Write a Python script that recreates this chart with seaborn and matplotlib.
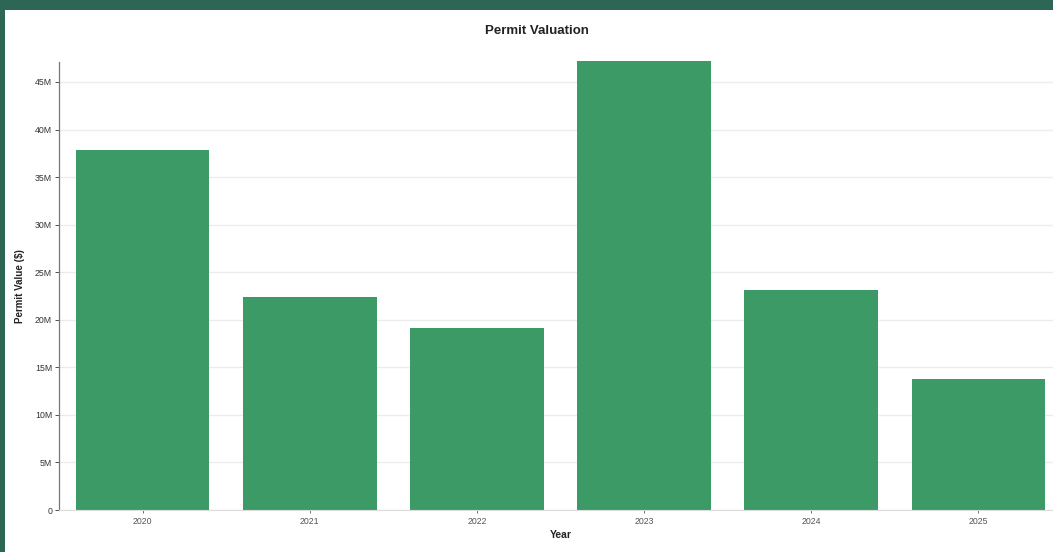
import matplotlib
matplotlib.use("Agg")
import matplotlib.pyplot as plt
import matplotlib.ticker as mticker
from matplotlib.patches import Rectangle
import seaborn as sns
import pandas as pd

# Annual permit valuation, in dollars
years = ["2020", "2021", "2022", "2023", "2024", "2025"]
permit_values = [37.85e6, 22.4e6, 19.15e6, 47.2e6, 23.1e6, 13.8e6]
y_ticks = [0, 5e6, 10e6, 15e6, 20e6, 25e6, 30e6, 35e6, 40e6, 45e6]

df = pd.DataFrame({"Year": years, "Permit Value ($)": permit_values})

sns.set_theme(style="white")
plt.rcParams["font.family"] = ["Liberation Sans", "DejaVu Sans"]

W, H = 1053, 552
fig = plt.figure(figsize=(W / 100, H / 100), dpi=100)
fig.patch.set_facecolor("#2d6655")
# white card sitting inside the dark frame
card = Rectangle((5 / W, 0), 1, 1 - 10 / H, transform=fig.transFigure,
                 facecolor="white", edgecolor="none", zorder=-10)
fig.patches.append(card)

x0, x1 = 59, 1062
y_top_px = 62
ax = fig.add_axes([x0 / W, 42 / H, (x1 - x0) / W, (510 - y_top_px) / H])
ax.set_zorder(5)
ax.set_facecolor("none")

sns.barplot(data=df, x="Year", y="Permit Value ($)", color="#3b9a66",
            saturation=1, width=0.8, ax=ax, zorder=2, clip_on=False)
for p in ax.patches:
    p.set_edgecolor("none")

ax.set_ylim(0, 47.1e6)
ax.set_xlim(-0.5, len(years) - 0.5)
ax.set_yticks(y_ticks)
ax.yaxis.set_major_formatter(mticker.FuncFormatter(
    lambda v, _: "0" if v == 0 else f"{v / 1e6:.0f}M"))
ax.yaxis.grid(True, color="#ececec", linewidth=1.0, zorder=0)
ax.set_axisbelow(True)

for s in ["top", "right"]:
    ax.spines[s].set_visible(False)
ax.spines["left"].set_color("#777777")
ax.spines["left"].set_linestyle((0, (2, 1)))
ax.spines["left"].set_linewidth(0.9)
ax.spines["bottom"].set_color("#dddddd")
ax.spines["bottom"].set_linewidth(0.8)

ax.tick_params(axis="y", labelsize=6.3, colors="#333333", length=3, width=0.6,
               direction="out", pad=2, left=True)
ax.tick_params(axis="x", labelsize=6.3, colors="#555555", length=2, width=0.6,
               direction="out", pad=3, bottom=True)

ax.set_xlabel("Year", fontsize=7.5, fontweight="bold", color="#222222", labelpad=3)
ax.set_ylabel("Permit Value ($)", fontsize=7, fontweight="bold", color="#222222", labelpad=7)
fig.text(537 / W, 1 - 31 / H, "Permit Valuation", ha="center", va="center",
         fontsize=9.5, fontweight="bold", color="#222222")

fig.savefig("out.png", dpi=100, facecolor=fig.get_facecolor())
